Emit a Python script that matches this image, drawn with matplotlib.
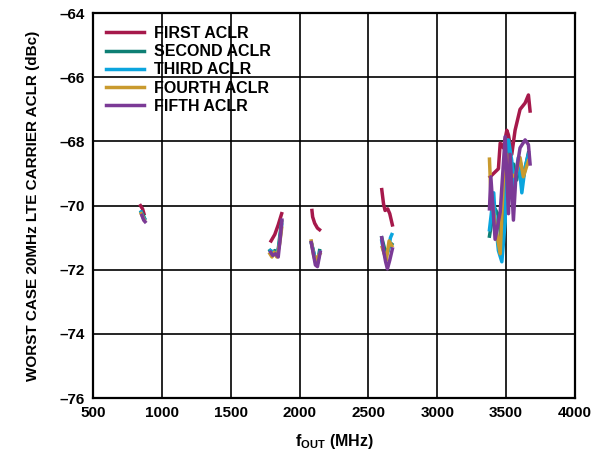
import numpy as np
import matplotlib.pyplot as plt

nan = np.nan

# frequency (MHz) / worst-case ACLR (dBc) per series, clusters separated by NaN
first_f = [845, 860, 870, nan,
           1793, 1820, 1845, 1870, nan,
           2090, 2095, 2110, 2130, 2145, nan,
           2597, 2610, 2621, 2640, 2655, 2674, nan,
           3384, 3444, 3457, 3480, 3505, 3517, 3541, 3565, 3601, 3638, 3662, 3674]
first_v = [-70.0, -70.1, -70.25, nan,
           -71.1, -70.9, -70.6, -70.25, nan,
           -70.15, -70.35, -70.55, -70.7, -70.75, nan,
           -69.5, -69.95, -70.15, -70.1, -70.25, -70.6, nan,
           -69.1, -68.85, -68.05, -68.2, -67.65, -67.8, -68.4, -67.65, -67.0, -66.8, -66.55, -67.05]

second_f = [850, 865, 875, nan,
            1785, 1800, 1820, 1840, 1855, 1870, nan,
            2085, 2100, 2115, 2130, 2145, nan,
            2597, 2615, 2630, 2650, 2670, nan,
            3379, 3400, 3420, 3444, 3469, 3493, 3505, 3529, 3553, 3577, 3601, 3625, 3650, 3662]
second_v = [-70.2, -70.3, -70.4, nan,
            -71.4, -71.5, -71.4, -71.55, -71.0, -70.5, nan,
            -71.15, -71.4, -71.7, -71.8, -71.4, nan,
            -71.0, -71.3, -71.5, -71.3, -71.2, nan,
            -70.95, -70.4, -70.1, -70.3, -71.2, -69.0, -68.2, -69.5, -68.7, -69.2, -68.6, -69.1, -68.6, -68.35]

third_f = [850, 862, 872, nan,
           1790, 1810, 1830, 1850, 1870, nan,
           2088, 2105, 2120, 2135, 2148, nan,
           2597, 2610, 2625, 2645, 2660, 2670, nan,
           3379, 3410, 3420, 3444, 3469, 3493, 3505, 3517, 3541, 3553, 3589, 3614, 3638, 3662]
third_v = [-70.2, -70.35, -70.4, nan,
           -71.4, -71.45, -71.5, -71.3, -70.6, nan,
           -71.2, -71.5, -71.8, -71.7, -71.45, nan,
           -71.1, -71.4, -71.6, -71.4, -71.0, -70.9, nan,
           -70.75, -69.6, -70.4, -71.4, -71.75, -70.5, -68.1, -67.95, -68.6, -69.4, -68.5, -69.6, -68.8, -68.4]

fourth_f = [850, 862, 872, nan,
            1785, 1800, 1815, 1835, 1855, 1870, nan,
            2085, 2100, 2115, 2130, 2148, nan,
            2600, 2615, 2630, 2650, 2670, nan,
            3379, 3389, 3420, 3457, 3480, 3505, 3529, 3565, 3601, 3625, 3662]
fourth_v = [-70.25, -70.35, -70.45, nan,
            -71.5, -71.6, -71.45, -71.6, -71.2, -70.7, nan,
            -71.1, -71.5, -71.75, -71.6, -71.5, nan,
            -71.3, -71.5, -71.7, -71.1, -71.25, nan,
            -68.55, -69.6, -70.55, -71.5, -69.2, -68.4, -69.0, -69.1, -68.5, -69.1, -68.6]

fifth_f = [855, 868, 878, nan,
           1790, 1805, 1825, 1845, 1860, 1872, nan,
           2085, 2100, 2115, 2130, 2150, nan,
           2597, 2610, 2625, 2638, 2655, 2674, nan,
           3379, 3389, 3420, 3457, 3493, 3517, 3529, 3553, 3572, 3601, 3638, 3662, 3674]
fifth_v = [-70.3, -70.45, -70.5, nan,
           -71.45, -71.55, -71.5, -71.6, -71.0, -70.45, nan,
           -71.15, -71.5, -71.85, -71.9, -71.45, nan,
           -71.0, -71.4, -71.75, -71.97, -71.7, -71.35, nan,
           -70.1, -69.1, -71.05, -70.2, -67.85, -70.25, -68.4, -70.45, -69.0, -68.2, -67.95, -68.1, -68.7]

labels = ['FIRST ACLR', 'SECOND ACLR', 'THIRD ACLR', 'FOURTH ACLR', 'FIFTH ACLR']
colors = ['#A6194B', '#0E7F74', '#0BA5DE', '#C99A2E', '#7B3A96']
xticks = [500, 1000, 1500, 2000, 2500, 3000, 3500, 4000]
yticks = [-76, -74, -72, -70, -68, -66, -64]

plt.rcParams['font.family'] = ['Liberation Sans', 'DejaVu Sans']
plt.rcParams['font.weight'] = 'bold'

fig = plt.figure(figsize=(5.98, 4.54), dpi=100)
ax = fig.add_axes([0.1555, 0.123, 0.806, 0.848])

series = [(first_f, first_v), (second_f, second_v), (third_f, third_v),
          (fourth_f, fourth_v), (fifth_f, fifth_v)]
for (f, v), lab, c in zip(series, labels, colors):
    ax.plot(f, v, color=c, lw=2.5, label=lab, solid_joinstyle='round')

ax.set_xlim(500, 4000)
ax.set_ylim(-76, -64)
ax.set_xticks(xticks)
ax.set_yticks(yticks)
ax.set_yticklabels([str(t).replace('-', '\u2013') for t in yticks])
ax.tick_params(labelsize=11, length=0, pad=6)
ax.grid(True, color='black', lw=1.2)
ax.set_axisbelow(True)
for s in ax.spines.values():
    s.set_linewidth(1.6)

ax.set_xlabel(r'f$_{\mathregular{OUT}}$ (MHz)', fontsize=11.5, fontweight='bold', labelpad=8)
ax.set_ylabel('WORST CASE 20MHz LTE CARRIER ACLR (dBc)', fontsize=11, fontweight='bold', labelpad=14)

ax.legend(loc='upper left', frameon=False, fontsize=11.5, handlelength=2.4,
          labelspacing=0.2, borderaxespad=0.4, handletextpad=0.6)

plt.savefig('out.png', dpi=100)
